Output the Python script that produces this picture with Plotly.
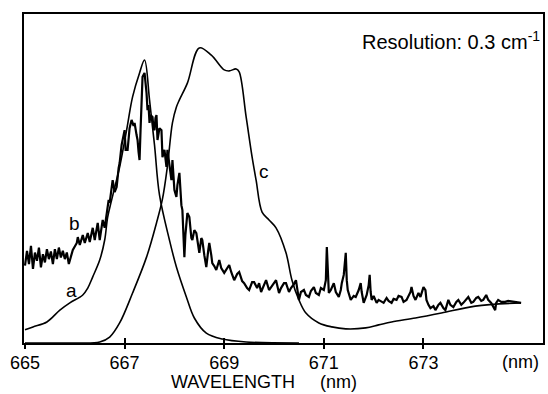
import plotly.graph_objects as go

# ---- data (wavelength in nm, intensity in arbitrary units 0-100) ----
a_wl = [665.00, 665.16, 665.44, 665.70, 665.90, 666.16, 666.26, 666.36, 666.50, 666.60,
        666.66, 666.74, 666.90, 667.04, 667.16, 667.30, 667.40, 667.50, 667.60, 667.70,
        667.90, 668.04, 668.24, 668.40, 668.64, 668.96, 669.44, 670.50]
a_int = [4.0, 4.9, 6.4, 10.0, 12.2, 14.6, 16.7, 20.1, 25.2, 31.3,
         38.3, 43.5, 53.5, 64.7, 74.8, 82.1, 86.0, 73.9, 60.2, 45.0,
         31.3, 23.1, 14.0, 7.6, 3.0, 1.2, 0.3, 0.0]

c_wl = [665.00, 666.00, 666.50, 666.70, 666.90, 667.16, 667.44, 667.64, 667.76, 667.86,
        667.96, 668.04, 668.10, 668.26, 668.50, 668.74, 669.00, 669.10, 669.24, 669.30,
        669.44, 669.56, 669.64, 669.76, 669.90, 670.04, 670.24, 670.36, 670.50, 670.64,
        670.90, 671.16, 671.44, 671.84, 672.10, 672.36, 672.84, 673.36, 674.04, 674.96]
c_int = [0.0, 0.0, 0.3, 1.8, 6.1, 15.2, 26.1, 36.5, 43.8, 53.8,
         66.9, 71.7, 73.9, 79.0, 89.7, 87.5, 83.0, 82.7, 83.3, 82.4,
         68.7, 56.5, 49.5, 39.8, 37.4, 35.0, 27.4, 19.1, 13.1, 9.1,
         6.1, 4.9, 4.3, 4.6, 5.5, 6.4, 7.6, 9.1, 11.2, 12.2]

b_wl = [665.00, 665.04, 665.08, 665.12, 665.16, 665.20, 665.24, 665.28, 665.32, 665.36,
        665.40, 665.44, 665.48, 665.52, 665.56, 665.60, 665.64, 665.68, 665.72, 665.76,
        665.80, 665.84, 665.88, 665.96, 666.04, 666.06, 666.10, 666.16, 666.20, 666.26,
        666.30, 666.36, 666.40, 666.46, 666.50, 666.56, 666.60, 666.64, 666.68, 666.70,
        666.76, 666.80, 666.84, 666.88, 666.90, 666.94, 666.96, 667.00, 667.02, 667.06,
        667.10, 667.14, 667.18, 667.20, 667.24, 667.26, 667.28, 667.30, 667.32, 667.34,
        667.36, 667.40, 667.42, 667.44, 667.46, 667.48, 667.50, 667.52, 667.56, 667.58,
        667.60, 667.62, 667.64, 667.66, 667.70, 667.74, 667.76, 667.80, 667.84, 667.86,
        667.90, 667.94, 667.96, 668.00, 668.04, 668.06, 668.10, 668.12, 668.14, 668.16,
        668.20, 668.22, 668.26, 668.30, 668.34, 668.36, 668.40, 668.44, 668.48, 668.50,
        668.54, 668.56, 668.60, 668.64, 668.68, 668.70, 668.74, 668.76, 668.80, 668.84,
        668.90, 668.94, 669.00, 669.06, 669.10, 669.14, 669.20, 669.26, 669.30, 669.36,
        669.40, 669.46, 669.50, 669.56, 669.60, 669.66, 669.70, 669.74, 669.80, 669.84,
        669.90, 669.94, 670.00, 670.04, 670.10, 670.14, 670.20, 670.24, 670.30, 670.34,
        670.40, 670.44, 670.50, 670.54, 670.60, 670.64, 670.70, 670.74, 670.80, 670.84,
        670.90, 670.94, 671.00, 671.04, 671.06, 671.08, 671.10, 671.14, 671.20, 671.24,
        671.30, 671.34, 671.36, 671.40, 671.44, 671.46, 671.48, 671.54, 671.60, 671.64,
        671.70, 671.74, 671.76, 671.80, 671.86, 671.90, 671.92, 671.94, 671.96, 672.00,
        672.06, 672.10, 672.16, 672.20, 672.26, 672.30, 672.36, 672.40, 672.46, 672.50,
        672.56, 672.60, 672.66, 672.70, 672.74, 672.76, 672.80, 672.84, 672.88, 672.90,
        672.94, 673.00, 673.04, 673.06, 673.10, 673.14, 673.20, 673.24, 673.30, 673.34,
        673.40, 673.44, 673.50, 673.54, 673.60, 673.66, 673.70, 673.76, 673.80, 673.86,
        673.90, 673.96, 674.00, 674.06, 674.10, 674.16, 674.20, 674.26, 674.30, 674.36,
        674.40, 674.44, 674.46, 674.50, 674.56, 674.64, 674.70, 674.80, 674.96]
b_int = [23.5, 28.0, 24.0, 29.5, 22.5, 27.5, 25.0, 29.0, 23.0, 27.0,
         24.5, 28.5, 25.5, 27.8, 24.0, 28.5, 25.5, 29.0, 26.0, 28.0,
         25.5, 27.5, 24.0, 28.3, 30.4, 32.2, 29.8, 32.8, 30.4, 33.4,
         30.7, 35.0, 31.3, 36.5, 31.3, 37.4, 35.0, 39.5, 43.5, 42.6,
         49.5, 45.9, 47.4, 53.2, 54.7, 60.2, 61.7, 64.7, 58.7, 58.7,
         65.3, 67.8, 66.0, 66.9, 63.2, 61.7, 58.1, 55.6, 64.7, 71.7,
         80.9, 82.1, 79.9, 76.0, 70.8, 72.3, 66.9, 69.3, 68.7, 65.3,
         64.7, 68.4, 69.3, 61.7, 65.3, 64.7, 56.5, 58.7, 53.5, 58.7,
         54.1, 49.5, 55.6, 46.5, 44.4, 48.0, 51.7, 45.0, 41.9, 40.4,
         26.1, 32.8, 39.5, 38.3, 31.9, 31.3, 34.3, 33.4, 28.9, 27.4,
         31.9, 31.3, 26.7, 23.1, 28.3, 30.4, 26.7, 24.3, 23.4, 22.2,
         25.2, 22.8, 21.3, 22.8, 23.7, 21.6, 19.1, 21.0, 21.6, 18.8,
         18.2, 16.7, 16.1, 18.5, 18.5, 16.7, 18.2, 15.5, 17.6, 19.1,
         16.1, 17.0, 18.5, 19.1, 15.2, 16.7, 18.2, 18.2, 15.5, 16.7,
         17.9, 19.1, 13.1, 15.5, 16.1, 14.6, 14.0, 15.8, 17.0, 15.2,
         14.6, 16.7, 16.1, 19.1, 29.2, 20.7, 15.2, 16.1, 18.2, 15.5,
         14.0, 16.1, 18.2, 20.7, 27.4, 19.1, 16.1, 13.1, 14.3, 14.0,
         16.1, 18.2, 15.5, 12.2, 14.6, 17.6, 20.7, 15.5, 13.1, 14.3,
         12.2, 13.1, 12.5, 12.2, 13.7, 12.8, 12.2, 13.4, 13.1, 14.3,
         14.0, 12.5, 13.1, 14.3, 15.5, 17.0, 14.3, 13.1, 14.6, 15.2,
         14.0, 17.0, 16.1, 13.1, 11.6, 10.6, 11.2, 10.0, 11.6, 12.2,
         10.6, 10.0, 13.1, 11.6, 10.9, 12.5, 13.1, 11.6, 12.2, 13.4,
         14.0, 12.2, 12.5, 13.7, 14.0, 12.8, 13.1, 14.6, 13.1, 12.2,
         11.2, 10.0, 12.2, 13.1, 12.5, 12.5, 12.8, 12.5, 12.2]

tick_vals = [665, 667, 669, 671, 673]
tick_text = ["665", "667", "669", "671", "673"]

FONT = "Liberation Sans"

fig = go.Figure()
fig.add_trace(go.Scatter(x=a_wl, y=a_int, mode="lines", line=dict(color="black", width=1.6),
                         line_shape="spline", showlegend=False, hoverinfo="skip"))
fig.add_trace(go.Scatter(x=c_wl, y=c_int, mode="lines", line=dict(color="black", width=1.6),
                         line_shape="spline", showlegend=False, hoverinfo="skip"))
fig.add_trace(go.Scatter(x=b_wl, y=b_int, mode="lines", line=dict(color="black", width=2.2),
                         showlegend=False, hoverinfo="skip"))
# invisible trace to activate the overlay axis used for inner tick marks
fig.add_trace(go.Scatter(x=[665], y=[0], xaxis="x2", mode="markers", marker=dict(opacity=0),
                         showlegend=False, hoverinfo="skip"))

xr = [664.98, 675.4]
fig.update_layout(
    width=548, height=394,
    margin=dict(l=24, r=3, t=14, b=51),
    paper_bgcolor="white", plot_bgcolor="white",
    font=dict(family=FONT, color="black", size=18),
    xaxis=dict(range=xr, tickvals=tick_vals, ticktext=tick_text, ticks="outside",
               ticklen=4, tickwidth=1.5, tickcolor="black", showgrid=False, zeroline=False,
               showline=True, linewidth=2.2, linecolor="black", mirror=True,
               tickfont=dict(family=FONT, size=18), ticklabelstandoff=-2),
    xaxis2=dict(range=xr, overlaying="x", anchor="y", side="bottom", tickvals=tick_vals,
                ticks="inside", ticklen=5, tickwidth=1.5, tickcolor="black",
                showticklabels=False, showgrid=False, zeroline=False, showline=False),
    yaxis=dict(range=[0, 100], showticklabels=False, ticks="", showgrid=False,
               zeroline=False, showline=True, linewidth=2, linecolor="black", mirror=True),
    annotations=[
        dict(text="Resolution: 0.3 cm<sup>-1</sup>", xref="paper", yref="paper",
             x=1.0, y=1.0, xanchor="right", yanchor="top", yshift=-12, xshift=-1,
             showarrow=False, font=dict(size=20)),
        dict(text="WAVELENGTH     (nm)", xref="paper", yref="paper", x=0.4626, y=0,
             xanchor="center", yanchor="middle", yshift=-39, showarrow=False,
             font=dict(size=18)),
        dict(text="(nm)", xref="paper", yref="paper", x=1.0, y=0, xanchor="right",
             yanchor="middle", yshift=-19, xshift=-2, showarrow=False, font=dict(size=18)),
        dict(text="a", x=665.94, y=16.1, showarrow=False, font=dict(size=19)),
        dict(text="b", x=666.0, y=36.2, showarrow=False, font=dict(size=19)),
        dict(text="c", x=669.8, y=52.0, showarrow=False, font=dict(size=19)),
    ],
)

fig.write_html("out.html")
